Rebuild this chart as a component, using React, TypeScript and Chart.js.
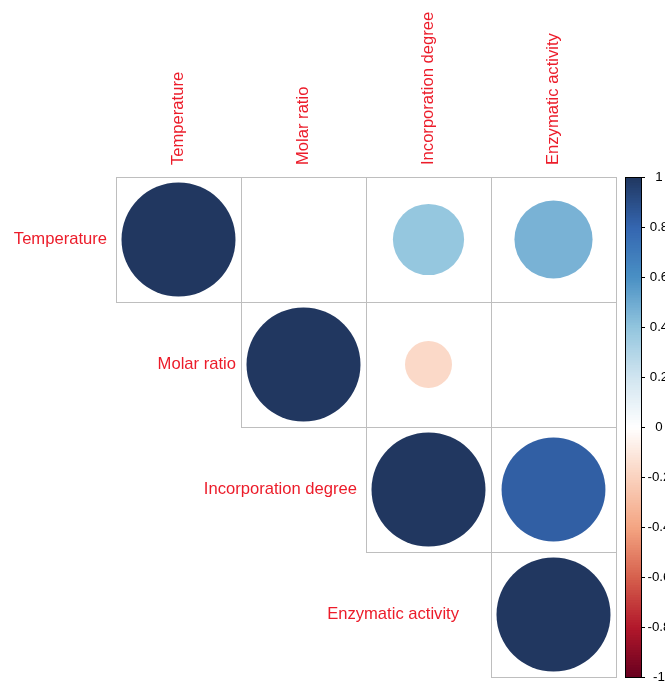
import React, { useEffect, useRef } from "react";
import { Chart, registerables } from "chart.js";

Chart.register(...registerables);

// ---- data ----
const variables = ["Temperature", "Molar ratio", "Incorporation degree", "Enzymatic activity"];
const cellRows = [1, 1, 1, 1, 2, 2, 2, 3, 3, 4];
const cellCols = [1, 2, 3, 4, 2, 3, 4, 3, 4, 4];
const corrValues = [1, 0, 0.39, 0.47, 1, -0.17, 0, 1, 0.83, 1];

const colorbarTicks = [1, 0.8, 0.6, 0.4, 0.2, 0, -0.2, -0.4, -0.6, -0.8, -1];
const colorbarTickLabels = ["1", "0.8", "0.6", "0.4", "0.2", "0", "-0.2", "-0.4", "-0.6", "-0.8", "-1"];

const colorStopValues = [-1, -0.8, -0.6, -0.4, -0.2, 0, 0.2, 0.4, 0.6, 0.8, 1];
const colorStopColors = [
  "#67001F", "#B2182B", "#D6604D", "#F4A582", "#FAD2BE", "#FFFFFF",
  "#D1E5F0", "#92C5DE", "#4A90C4", "#3466B0", "#213760",
];

// ---- helpers ----
function hexToRgb(h: string) {
  const n = parseInt(h.slice(1), 16);
  return [(n >> 16) & 255, (n >> 8) & 255, n & 255];
}
function colorFor(v: number) {
  const x = Math.max(-1, Math.min(1, v));
  for (let i = 0; i < colorStopValues.length - 1; i++) {
    const a = colorStopValues[i], b = colorStopValues[i + 1];
    if (x >= a && x <= b) {
      const t = (x - a) / (b - a);
      const c1 = hexToRgb(colorStopColors[i]);
      const c2 = hexToRgb(colorStopColors[i + 1]);
      const c = c1.map((c, k) => Math.round(c + (c2[k] - c) * t));
      return `rgb(${c[0]},${c[1]},${c[2]})`;
    }
  }
  return colorStopColors[colorStopColors.length - 1];
}

const LABEL_COLOR = "#EC1C2A";
const LABEL_FONT = '16.6px "Liberation Sans", Arial, sans-serif';
const rowLabelGaps = [9, 5, 9, 32];

const corrPlugin = {
  id: "corrDecor",
  beforeDatasetsDraw(chart: any) {
    const { ctx, scales } = chart;
    const xs = scales.x, ys = scales.y;
    ctx.save();
    ctx.strokeStyle = "#BEBEBE";
    ctx.lineWidth = 1;
    for (let k = 0; k < cellRows.length; k++) {
      const x0 = Math.round(xs.getPixelForValue(cellCols[k] - 0.5));
      const x1 = Math.round(xs.getPixelForValue(cellCols[k] + 0.5));
      const y0 = Math.round(ys.getPixelForValue(cellRows[k] - 0.5));
      const y1 = Math.round(ys.getPixelForValue(cellRows[k] + 0.5));
      ctx.strokeRect(x0 + 0.5, y0 + 0.5, x1 - x0, y1 - y0);
    }
    ctx.restore();
  },
  afterDraw(chart: any) {
    const { ctx, scales, chartArea } = chart;
    const xs = scales.x, ys = scales.y;
    ctx.save();
    ctx.fillStyle = LABEL_COLOR;
    ctx.font = LABEL_FONT;
    // row labels
    ctx.textAlign = "right";
    ctx.textBaseline = "middle";
    variables.forEach((name, i) => {
      const xr = xs.getPixelForValue(i + 1 - 0.5) - rowLabelGaps[i];
      ctx.fillText(name, xr, ys.getPixelForValue(i + 1));
    });
    // column labels
    variables.forEach((name, i) => {
      ctx.save();
      ctx.translate(xs.getPixelForValue(i + 1), chartArea.top - 12);
      ctx.rotate(-Math.PI / 2);
      ctx.textAlign = "left";
      ctx.textBaseline = "middle";
      ctx.fillText(name, 0, 0);
      ctx.restore();
    });
    // colorbar
    const left = chartArea.right + 9;
    const w = 16;
    const top = chartArea.top;
    const h = chartArea.bottom - chartArea.top;
    const n = 200;
    for (let i = 0; i < n; i++) {
      const v = -1 + (i + 0.5) * (2 / n);
      const yb = top + h - (i * h) / n;
      const yt = top + h - ((i + 1) * h) / n;
      ctx.fillStyle = colorFor(v);
      ctx.fillRect(left, yt, w, yb - yt + 0.6);
    }
    ctx.strokeStyle = "#000";
    ctx.lineWidth = 1;
    ctx.strokeRect(left + 0.5, top + 0.5, w, h);
    ctx.fillStyle = "#000";
    ctx.font = '13.3px "Liberation Sans", Arial, sans-serif';
    ctx.textAlign = "center";
    ctx.textBaseline = "middle";
    colorbarTicks.forEach((t, i) => {
      const y = Math.round(top + ((1 - t) / 2) * h) + 0.5;
      ctx.beginPath();
      ctx.moveTo(left + w, y);
      ctx.lineTo(left + w + 4, y);
      ctx.stroke();
      ctx.fillText(colorbarTickLabels[i], left + w + 18, y);
    });
    ctx.restore();
  },
};

export default function App() {
  const ref = useRef<HTMLCanvasElement | null>(null);
  useEffect(() => {
    if (!ref.current) return;
    const points = corrValues.map((v, k) => ({ x: cellCols[k], y: cellRows[k], v }));
    const chart = new Chart(ref.current, {
      type: "scatter",
      data: {
        datasets: [
          {
            data: points as any,
            pointRadius: (c: any) => {
              const raw = c.raw;
              if (!raw) return 0;
              const xs = c.chart.scales.x;
              const cell = Math.abs(xs.getPixelForValue(1) - xs.getPixelForValue(0));
              return 0.456 * cell * Math.sqrt(Math.abs(raw.v));
            },
            pointBackgroundColor: (c: any) => (c.raw ? colorFor(c.raw.v) : "#fff"),
            pointBorderWidth: 0,
            pointHoverRadius: 0,
          } as any,
        ],
      },
      options: {
        responsive: false,
        animation: false,
        events: [],
        layout: { padding: { left: 116, top: 177, right: 49, bottom: 4 } },
        plugins: { legend: { display: false }, tooltip: { enabled: false } },
        scales: {
          x: { type: "linear", min: 0.5, max: 4.5, display: false },
          y: { type: "linear", min: 0.5, max: 4.5, reverse: true, display: false },
        },
      },
      plugins: [corrPlugin],
    });
    return () => chart.destroy();
  }, []);
  return (
    <div style={{ position: "absolute", left: 0, top: 0, width: 665, height: 681, background: "#fff" }}>
      <canvas ref={ref} width={665} height={681} style={{ display: "block" }} />
    </div>
  );
}
